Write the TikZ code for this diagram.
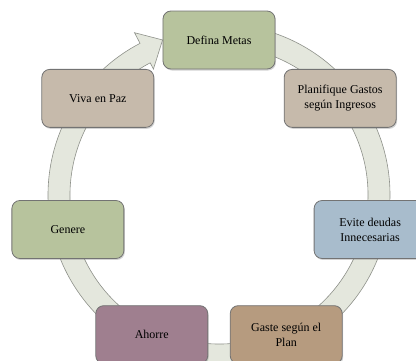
\documentclass[tikz,border=0pt]{standalone}
\usepackage{fontspec}
\setmainfont{Liberation Serif}
\usetikzlibrary{shadows}
\definecolor{ringfill}{HTML}{E4E7DD}
\definecolor{ringline}{HTML}{8E918A}
\definecolor{boxgreen}{HTML}{B7C39D}
\definecolor{boxtaupe}{HTML}{C6BAAB}
\definecolor{boxblue}{HTML}{A8BCCC}
\definecolor{boxbrown}{HTML}{B69B7F}
\definecolor{boxmauve}{HTML}{9F7F8F}
\tikzset{>=latex}

\begin{document}
\begin{tikzpicture}[x=1pt,y=1pt]
\useasboundingbox (-219,-165) rectangle (197,195);
\clip (-219,-165) rectangle (197,195);
% cycle arrow behind the boxes
\filldraw[fill=ringfill,draw=ringline,line width=0.6pt]
    (85:171) arc[start angle=85,end angle=-242.5,radius=171]
    -- (-242.5:183) -- (-250:165) -- (-242.5:142) -- (-242.5:149)
    arc[start angle=-242.5,end angle=85,radius=149] -- cycle;
\begin{scope}[every node/.style={rectangle,rounded corners=8pt,draw=black!55,
    line width=0.8pt,minimum width=112pt,minimum height=58pt,align=center,
    font=\fontsize{12}{15}\selectfont,
    drop shadow={opacity=0.35,shadow xshift=1pt,shadow yshift=-1.5pt}}]
\node[fill=boxgreen] (metas) at (90:155) {Defina Metas};
\node[fill=boxtaupe] (planifique) at (38.57:155) {Planifique Gastos\\según Ingresos};
\node[fill=boxblue] (evite) at (-12.86:155) {Evite deudas\\Innecesarias};
\node[fill=boxbrown] (gaste) at (-64.29:155) {Gaste según el\\Plan};
\node[fill=boxmauve] (ahorre) at (-115.71:155) {Ahorre};
\node[fill=boxgreen] (genere) at (-167.14:155) {Genere};
\node[fill=boxtaupe] (viva) at (141.43:155) {Viva en Paz};
\end{scope}
\end{tikzpicture}
\end{document}
